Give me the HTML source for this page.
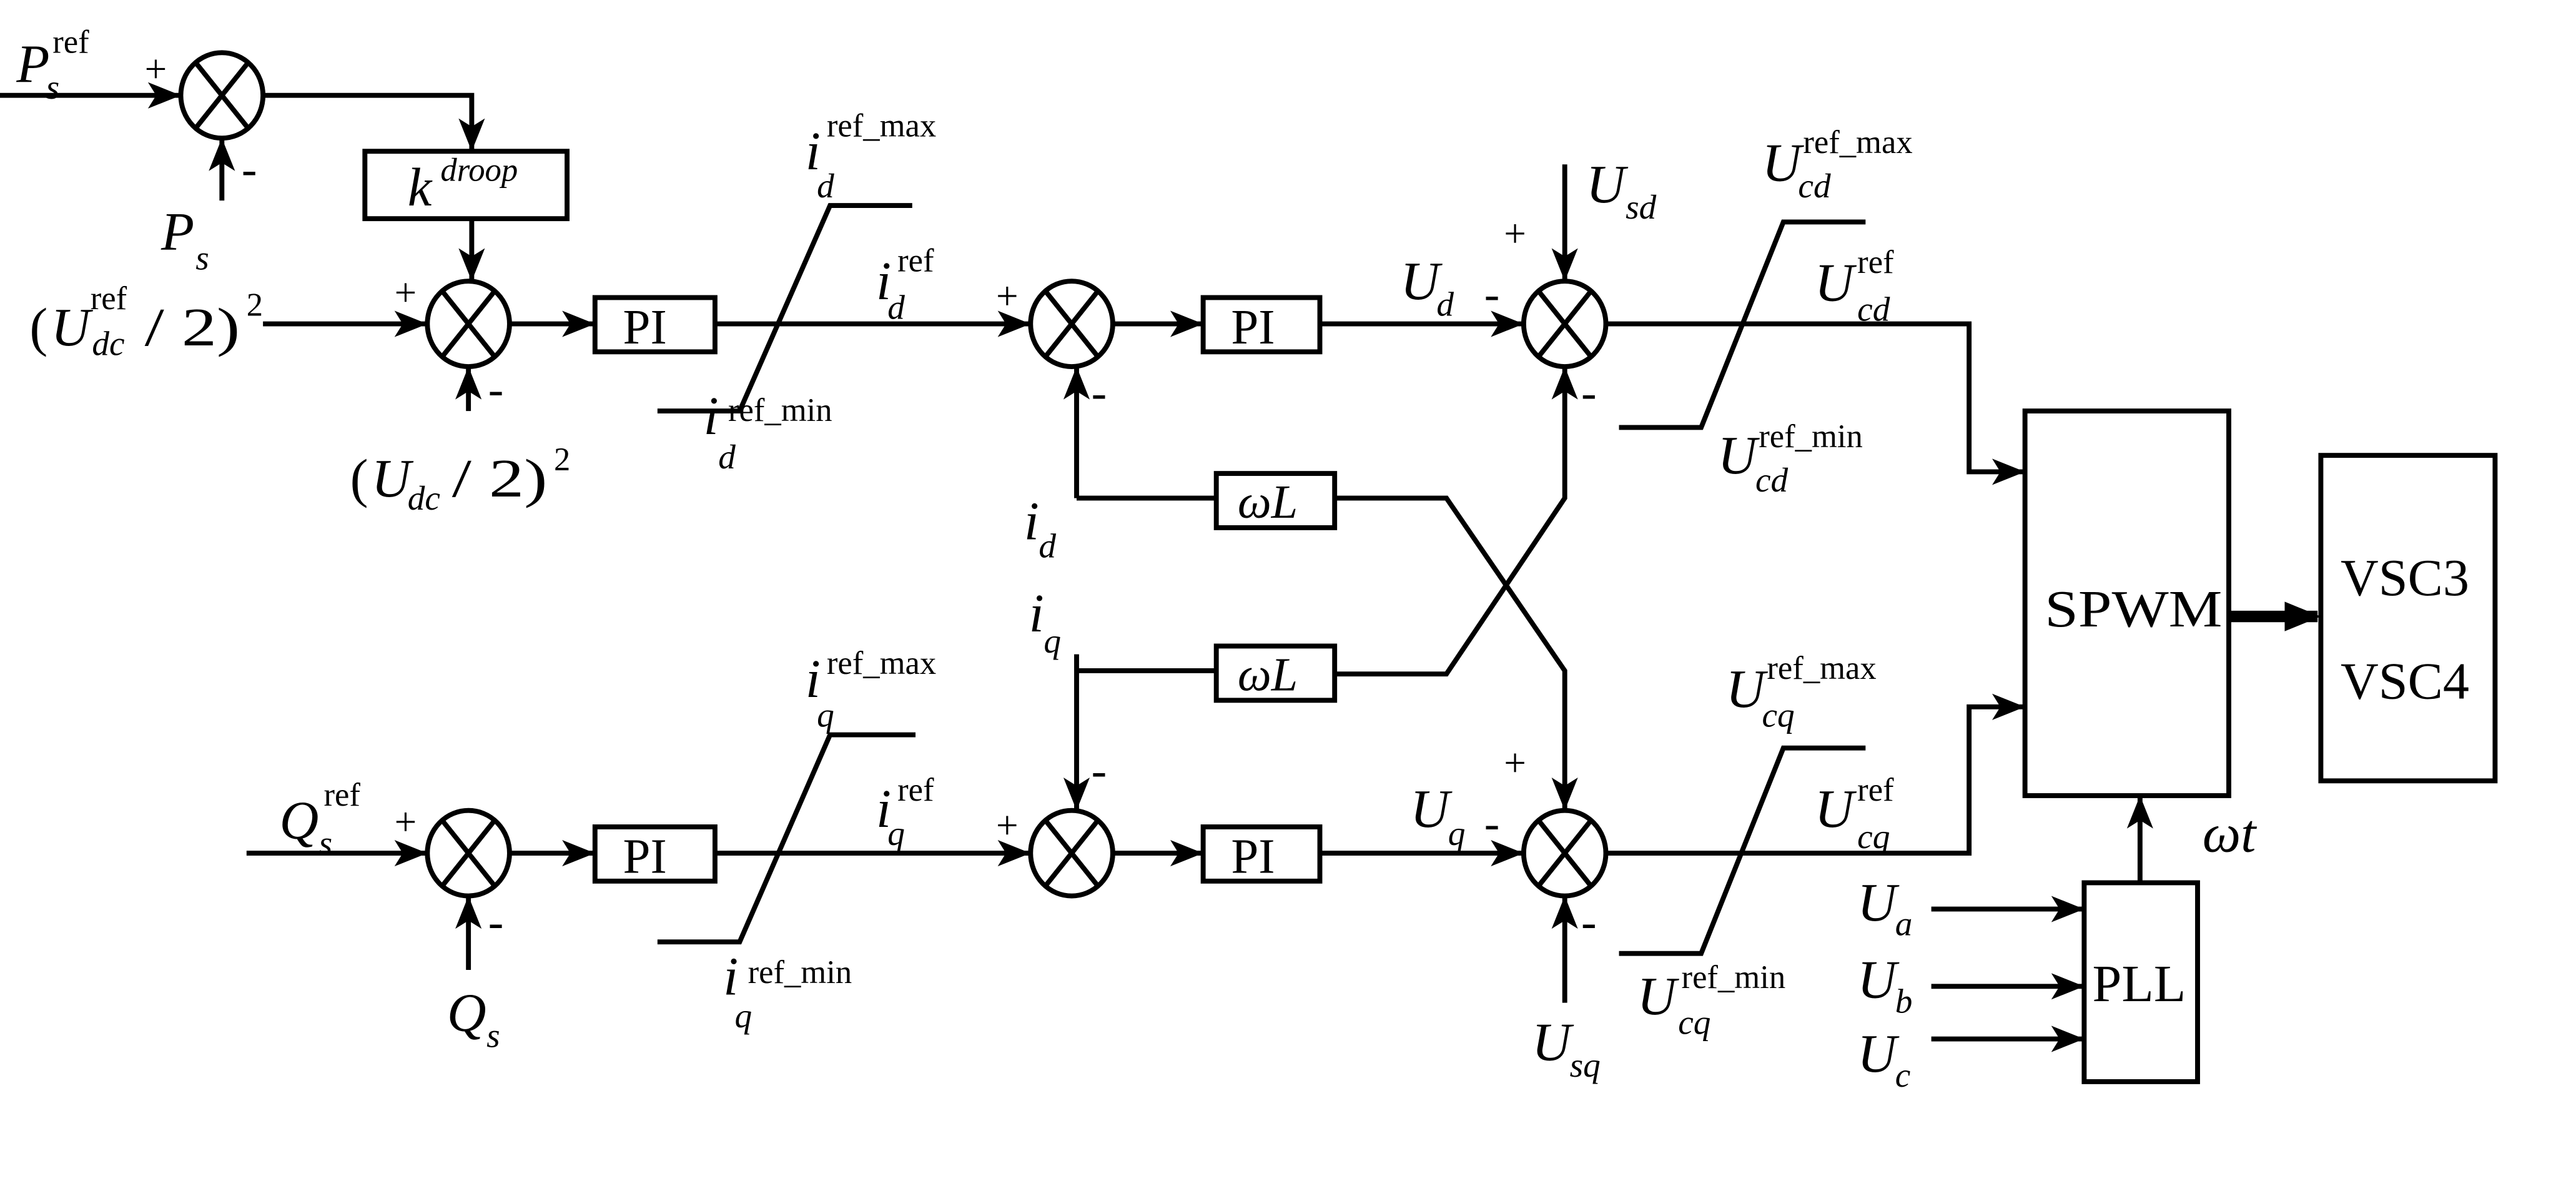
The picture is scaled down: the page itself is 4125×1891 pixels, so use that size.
<!DOCTYPE html>
<html><head><meta charset="utf-8"><style>
html,body{margin:0;padding:0;background:#fff;}
svg{display:block;}
text{font-family:"Liberation Serif",serif;fill:#000;}
.i{font-style:italic;}
</style></head><body>
<svg width="4125" height="1891" viewBox="0 0 1550 710.5" xmlns="http://www.w3.org/2000/svg">
<defs>
<marker id="A" markerWidth="22" markerHeight="22" refX="20" refY="11" orient="auto" markerUnits="userSpaceOnUse" viewBox="0 0 22 22">
<path d="M0,2 L22,11 L0,20 Z" fill="#000"/></marker>
<marker id="b" viewBox="0 0 20 20" refX="19" refY="10" markerWidth="20" markerHeight="20" orient="auto" markerUnits="userSpaceOnUse">
<path d="M0,2 L20,10 L0,18 L5,10 Z" fill="#000"/></marker>
</defs>
<g transform="scale(0.989)">
<g fill="none" stroke="#000" stroke-width="3">
<ellipse cx="135" cy="58" rx="25" ry="26"/><path d="M119,38 L151,78 M151,38 L119,78"/>
<ellipse cx="285" cy="197" rx="25" ry="26"/><path d="M269,177 L301,217 M301,177 L269,217"/>
<ellipse cx="652" cy="197" rx="25" ry="26"/><path d="M636,177 L668,217 M668,177 L636,217"/>
<ellipse cx="952" cy="197" rx="25" ry="26"/><path d="M936,177 L968,217 M968,177 L936,217"/>
<ellipse cx="285" cy="519" rx="25" ry="26"/><path d="M269,499 L301,539 M301,499 L269,539"/>
<ellipse cx="652" cy="519" rx="25" ry="26"/><path d="M636,499 L668,539 M668,499 L636,539"/>
<ellipse cx="952" cy="519" rx="25" ry="26"/><path d="M936,499 L968,539 M968,499 L936,539"/>
<rect x="222" y="92" width="123" height="41"/>
<rect x="362" y="181" width="73" height="33"/>
<rect x="732" y="181" width="71" height="33"/>
<rect x="362" y="503" width="73" height="33"/>
<rect x="732" y="503" width="71" height="33"/>
<rect x="740" y="288" width="72" height="33"/>
<rect x="740" y="393" width="72" height="33"/>
<rect x="1232" y="250" width="124" height="234"/>
<rect x="1412" y="277" width="106" height="198"/>
<rect x="1268" y="537" width="69" height="121"/>
<path d="M0,58 L109,58" marker-end="url(#b)"/>
<path d="M135,122 L135,85" marker-end="url(#b)"/>
<path d="M160,58 L287,58 L287,91" marker-end="url(#b)"/>
<path d="M287,133 L287,170" marker-end="url(#b)"/>
<path d="M160,197 L259,197" marker-end="url(#b)"/>
<path d="M285,250 L285,224" marker-end="url(#b)"/>
<path d="M310,197 L361,197" marker-end="url(#b)"/>
<path d="M435,197 L626,197" marker-end="url(#b)"/>
<path d="M400,250 L450,250 L505,125 L555,125"/>
<path d="M655,303 L655,224" marker-end="url(#b)"/>
<path d="M655,303 L740,303 M812,303 L880,303 L952,408 L952,492" marker-end="url(#b)"/>
<path d="M677,197 L731,197" marker-end="url(#b)"/>
<path d="M803,197 L926,197" marker-end="url(#b)"/>
<path d="M952,100 L952,170" marker-end="url(#b)"/>
<path d="M655,408 L740,408 M812,410 L880,410 L952,303 L952,224" marker-end="url(#b)"/>
<path d="M655,398 L655,492" marker-end="url(#b)"/>
<path d="M977,197 L1198,197 L1198,287 L1231,287" marker-end="url(#b)"/>
<path d="M985,260 L1035,260 L1085,135 L1135,135"/>
<path d="M150,519 L259,519" marker-end="url(#b)"/>
<path d="M285,590 L285,546" marker-end="url(#b)"/>
<path d="M310,519 L361,519" marker-end="url(#b)"/>
<path d="M435,519 L626,519" marker-end="url(#b)"/>
<path d="M400,573 L450,573 L505,447 L557,447"/>
<path d="M677,519 L731,519" marker-end="url(#b)"/>
<path d="M803,519 L926,519" marker-end="url(#b)"/>
<path d="M952,610 L952,546" marker-end="url(#b)"/>
<path d="M977,519 L1198,519 L1198,430 L1231,430" marker-end="url(#b)"/>
<path d="M985,580 L1035,580 L1085,455 L1135,455"/>
<path d="M1302,537 L1302,485" marker-end="url(#b)"/>
<path d="M1175,553 L1267,553" marker-end="url(#b)"/>
<path d="M1175,600 L1267,600" marker-end="url(#b)"/>
<path d="M1175,632 L1267,632" marker-end="url(#b)"/>
<path d="M1356,375 L1410,375" stroke-width="7" marker-end="url(#A)"/>
</g>
<g font-size="33">
<text x="10" y="50" class="i">P</text><text x="32" y="32" font-size="20">ref</text><text x="28" y="60" font-size="21" class="i">s</text>
<text x="88" y="50" font-size="24">+</text><text x="147" y="112" font-size="28">-</text>
<text x="98" y="152" class="i">P</text><text x="119" y="164" font-size="21" class="i">s</text>
<text x="248" y="125" class="i">k</text><text x="268" y="110" font-size="20" class="i">droop</text>
<text x="18" y="210">(</text><text x="31" y="210" class="i">U</text><text x="55" y="188" font-size="20">ref</text><text x="56" y="216" font-size="21" class="i">dc</text><text x="88" y="210" textLength="58" lengthAdjust="spacingAndGlyphs">/ 2)</text><text x="150" y="192" font-size="20">2</text>
<text x="240" y="186" font-size="24">+</text><text x="297" y="246" font-size="28">-</text>
<text x="213" y="302">(</text><text x="226" y="302" class="i">U</text><text x="248" y="310" font-size="21" class="i">dc</text><text x="275" y="302" textLength="58" lengthAdjust="spacingAndGlyphs">/ 2)</text><text x="337" y="286" font-size="20">2</text>
<text x="379" y="209" font-size="30">PI</text><text x="749" y="209" font-size="30">PI</text>
<text x="379" y="531" font-size="30">PI</text><text x="749" y="531" font-size="30">PI</text>
<text x="490" y="103" class="i">i</text><text x="503" y="83" font-size="20">ref_max</text><text x="497" y="120" font-size="21" class="i">d</text>
<text x="533" y="182" class="i">i</text><text x="546" y="165" font-size="20">ref</text><text x="540" y="194" font-size="21" class="i">d</text>
<text x="428" y="264" class="i">i</text><text x="443" y="256" font-size="20">ref_min</text><text x="437" y="285" font-size="21" class="i">d</text>
<text x="606" y="188" font-size="24">+</text><text x="664" y="248" font-size="28">-</text>
<text x="623" y="328" class="i">i</text><text x="632" y="339" font-size="21" class="i">d</text>
<text x="626" y="384" class="i">i</text><text x="635" y="397" font-size="21" class="i">q</text>
<text x="753" y="315" font-size="29" class="i">ωL</text><text x="753" y="420" font-size="29" class="i">ωL</text>
<text x="852" y="182" class="i">U</text><text x="874" y="192" font-size="21" class="i">d</text><text x="903" y="188" font-size="28">-</text>
<text x="915" y="150" font-size="24">+</text><text x="962" y="248" font-size="28">-</text>
<text x="965" y="123" class="i">U</text><text x="989" y="133" font-size="21" class="i">sd</text>
<text x="1072" y="110" class="i">U</text><text x="1097" y="93" font-size="20">ref_max</text><text x="1094" y="120" font-size="21" class="i">cd</text>
<text x="1104" y="183" class="i">U</text><text x="1130" y="166" font-size="20">ref</text><text x="1130" y="195" font-size="21" class="i">cd</text>
<text x="1045" y="288" class="i">U</text><text x="1070" y="272" font-size="20">ref_min</text><text x="1068" y="299" font-size="21" class="i">cd</text>
<text x="1244" y="381" font-size="32" textLength="108" lengthAdjust="spacingAndGlyphs">SPWM</text>
<text x="1424" y="362" font-size="32">VSC3</text><text x="1424" y="425" font-size="32">VSC4</text>
<text x="490" y="424" class="i">i</text><text x="503" y="410" font-size="20">ref_max</text><text x="497" y="442" font-size="21" class="i">q</text>
<text x="533" y="503" class="i">i</text><text x="546" y="487" font-size="20">ref</text><text x="540" y="514" font-size="21" class="i">q</text>
<text x="440" y="605" class="i">i</text><text x="455" y="598" font-size="20">ref_min</text><text x="447" y="625" font-size="21" class="i">q</text>
<text x="170" y="510" class="i">Q</text><text x="197" y="490" font-size="20">ref</text><text x="194" y="520" font-size="21" class="i">s</text>
<text x="240" y="508" font-size="24">+</text><text x="297" y="570" font-size="28">-</text>
<text x="272" y="627" class="i">Q</text><text x="296" y="637" font-size="21" class="i">s</text>
<text x="606" y="510" font-size="24">+</text><text x="664" y="478" font-size="28">-</text>
<text x="858" y="503" class="i">U</text><text x="881" y="514" font-size="21" class="i">q</text><text x="903" y="510" font-size="28">-</text>
<text x="915" y="472" font-size="24">+</text><text x="962" y="570" font-size="28">-</text>
<text x="932" y="645" class="i">U</text><text x="955" y="655" font-size="21" class="i">sq</text>
<text x="1050" y="430" class="i">U</text><text x="1075" y="413" font-size="20">ref_max</text><text x="1072" y="442" font-size="21" class="i">cq</text>
<text x="1104" y="503" class="i">U</text><text x="1130" y="487" font-size="20">ref</text><text x="1130" y="516" font-size="21" class="i">cq</text>
<text x="996" y="617" class="i">U</text><text x="1023" y="601" font-size="20">ref_min</text><text x="1021" y="629" font-size="21" class="i">cq</text>
<text x="1340" y="518" class="i">ωt</text>
<text x="1273" y="609" font-size="32">PLL</text>
<text x="1130" y="560" class="i">U</text><text x="1153" y="569" font-size="21" class="i">a</text>
<text x="1130" y="607" class="i">U</text><text x="1153" y="616" font-size="21" class="i">b</text>
<text x="1130" y="652" class="i">U</text><text x="1153" y="661" font-size="21" class="i">c</text>
</g>
</g>
</svg>
</body></html>
